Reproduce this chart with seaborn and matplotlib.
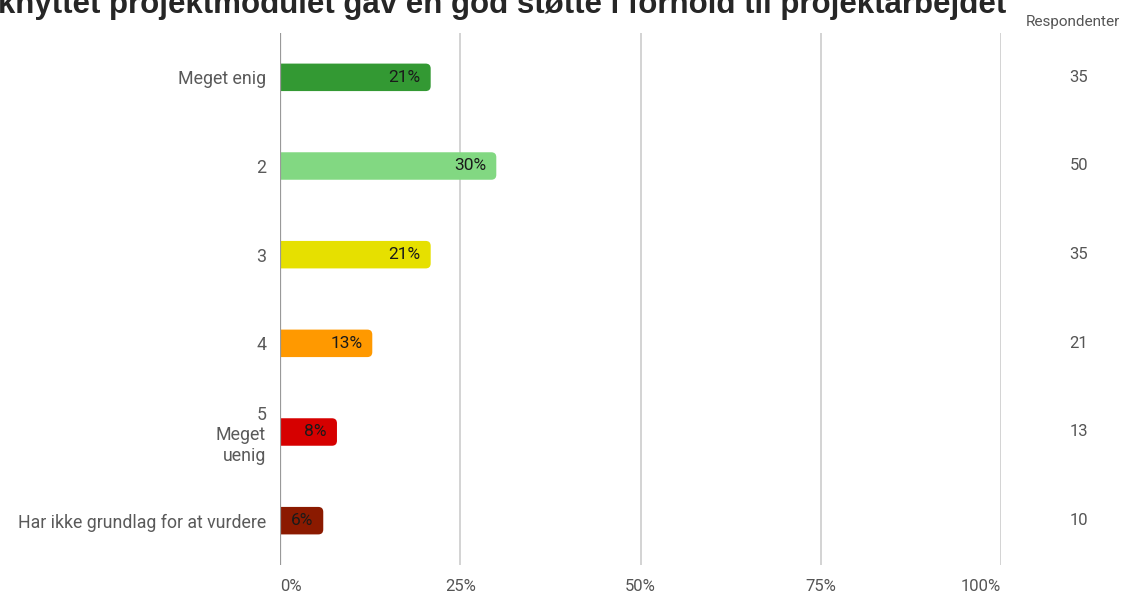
import numpy as np
import pandas as pd
import matplotlib
matplotlib.use("Agg")
import matplotlib.pyplot as plt
from matplotlib.patches import FancyBboxPatch
from matplotlib.transforms import blended_transform_factory
import seaborn as sns

# data
categories = ["Meget enig", "2", "3", "4", "5\nMeget\nuenig", "Har ikke grundlag for at vurdere"]
pct = [20.9, 30.0, 20.9, 12.8, 7.9, 6.0]
pct_labels = ["21%", "30%", "21%", "13%", "8%", "6%"]
respondents = [35, 50, 35, 21, 13, 10]
bar_colors = ["#339933", "#82d882", "#e6e000", "#ff9900", "#d60000", "#8b1a00"]
x_ticks = [0, 25, 50, 75, 100]
x_ticklabels = ["0%", "25%", "50%", "75%", "100%"]
title = "knyttet projektmodulet gav en god støtte i forhold til projektarbejdet"

df = pd.DataFrame({"kategori": categories, "pct": pct})

sns.set_style("white")
plt.rcParams["font.family"] = ["Roboto", "DejaVu Sans"]

fig = plt.figure(figsize=(11.36, 5.95), dpi=100)
ax = fig.add_axes([280 / 1136, 1 - 565 / 595, 721 / 1136, 532 / 595])

sns.barplot(data=df, x="pct", y="kategori", hue="kategori", palette=bar_colors,
            legend=False, width=0.31, saturation=1, ax=ax, orient="h")

# swap the plain bars for rounded ones (left end hidden behind the axis)
px_x = 721 / 100
px_y = 532 / 6
r = 5
for p in list(ax.patches):
    x, y, w, h = p.get_x(), p.get_y(), p.get_width(), p.get_height()
    fc = p.get_facecolor()
    p.remove()
    rb = FancyBboxPatch((x - 2, y), w + 2, h,
                        boxstyle=f"round,pad=0,rounding_size={r / px_x}",
                        mutation_aspect=px_x / px_y,
                        fc=fc, ec="none", zorder=3)
    ax.add_patch(rb)

for i, (v, lab) in enumerate(zip(pct, pct_labels)):
    ax.text(v - 1.4, i, lab, ha="right", va="center", fontsize=12.5,
            color="#1a1a1a", zorder=4)

ax.set_xlim(0, 100)
ax.set_ylim(5.5, -0.5)
ax.set_xticks(x_ticks)
ax.set_xticklabels(x_ticklabels, fontsize=12, color="#555555")
for t, ha in zip(ax.get_xticklabels(), ["left", "center", "center", "center", "right"]):
    t.set_ha(ha)
ax.tick_params(axis="x", length=0, pad=10)
ax.tick_params(axis="y", length=0, pad=10, labelsize=12.8, labelcolor="#5a5a5a")
for t in ax.get_yticklabels():
    t.set_multialignment("right")
ax.set_xlabel("")
ax.set_ylabel("")

ax.grid(axis="x", color="#cccccc", linewidth=1.2, zorder=0)
ax.set_axisbelow(True)
for s in ax.spines.values():
    s.set_visible(False)
ax.axvline(0, color="#999999", linewidth=1.6, zorder=5)

# respondents column on the right
col_tr = blended_transform_factory(fig.transFigure, ax.transData)
for i, n in enumerate(respondents):
    ax.text(1079 / 1136, i, str(n), transform=col_tr, clip_on=False,
            ha="center", va="center", fontsize=12, color="#555555")
fig.text(1073 / 1136, 1 - 22 / 595, "Respondenter", ha="center", va="center",
         fontsize=11, color="#555555")

fig.text(-0.002, 1 - 13 / 595, title, ha="left", va="baseline",
         fontsize=22.5, fontweight="bold", family=["Liberation Sans", "DejaVu Sans"])

fig.savefig("out.png", dpi=100)
